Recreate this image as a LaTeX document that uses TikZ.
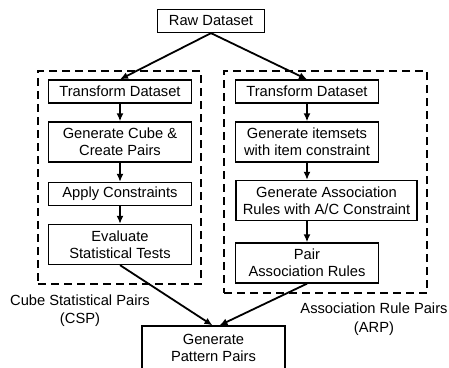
\documentclass[tikz,border=0pt]{standalone}
\usepackage{fontspec}
\setmainfont{Liberation Sans}
\usepackage{tikz}
\usetikzlibrary{shapes,arrows,arrows.meta}
\tikzstyle{block} = [rectangle, draw, line width=1.3pt, text centered,
    inner xsep=2pt, inner ysep=2pt, minimum width=143pt, minimum height=23pt]
\tikzstyle{twoline} = [block, minimum height=40pt]
\tikzstyle{group} = [rectangle, draw, dashed, line width=2.3pt,
    dash pattern=on 8pt off 5pt]
\tikzstyle{grouplabel} = [align=center, font=\fontsize{14.7}{18.5}\selectfont]
\tikzstyle{line} = [draw, line width=1.8pt, ->]
\tikzset{%
      >={Latex[width=7pt,length=8pt]},
}

\begin{document}
\begin{tikzpicture}[x=1pt, y=-1pt, node distance=50.5pt,
    every node/.style={font=\fontsize{14.7}{17}\selectfont}, align=center]
        \useasboundingbox (0,0) rectangle (449,367);

        % dashed frames round the two branches
        \node[group, minimum width=163pt, minimum height=213pt] (csp) at (119.5,177.5) {};
        \node[group, minimum width=203pt, minimum height=222pt] (arp) at (325.5,182) {};

        \node[block, minimum width=107pt] (raw) at (211,21) {Raw Dataset};

        % left branch
        \node[block] (ltrans) at (120,91.5) {Transform Dataset};
        \node[twoline, below of=ltrans] (lcube) {Generate Cube \&\\Create Pairs};
        \node[block, below of=lcube, node distance=52pt] (lcons) {Apply Constraints};
        \node[twoline, below of=lcons] (leval) {Evaluate\\Statistical Tests};

        % right branch
        \node[block] (rtrans) at (307,91.5) {Transform Dataset};
        \node[twoline, below of=rtrans] (ritem) {Generate itemsets\\with item constraint};
        \node[twoline, below of=ritem, node distance=58.5pt, xshift=19.5pt,
            minimum width=181pt] (rrules) {Generate Association\\Rules with A/C Constraint};
        \node[twoline, below of=rrules, node distance=62.5pt, xshift=-19.5pt] (rpair) {Pair\\Association Rules};

        % runs off the bottom edge
        \node[twoline, minimum height=44pt] (pattern) at (213.5,348) {Generate\\Pattern Pairs};

        \node[grouplabel] (csplabel) at (80,310.5) {Cube Statistical Pairs\\(CSP)};
        \node[grouplabel] (arplabel) at (374,319) {Association Rule Pairs\\(ARP)};

        \path [line] (raw.south) -- (ltrans.north);
        \path [line] (raw.south) -- (rtrans.north);
        \path [line] (ltrans) -- (lcube);
        \path [line] (lcube) -- (lcons);
        \path [line] (lcons) -- (leval);
        \path [line] (rtrans) -- (ritem);
        \path [line] (ritem) -- (ritem |- rrules.north);
        \path [line] (ritem |- rrules.south) -- (rpair);
        \path [line] (leval.south) -- ([xshift=-1pt]pattern.north);
        \path [line] (rpair.south) -- ([xshift=6pt]pattern.north);
    \end{tikzpicture}
\end{document}
